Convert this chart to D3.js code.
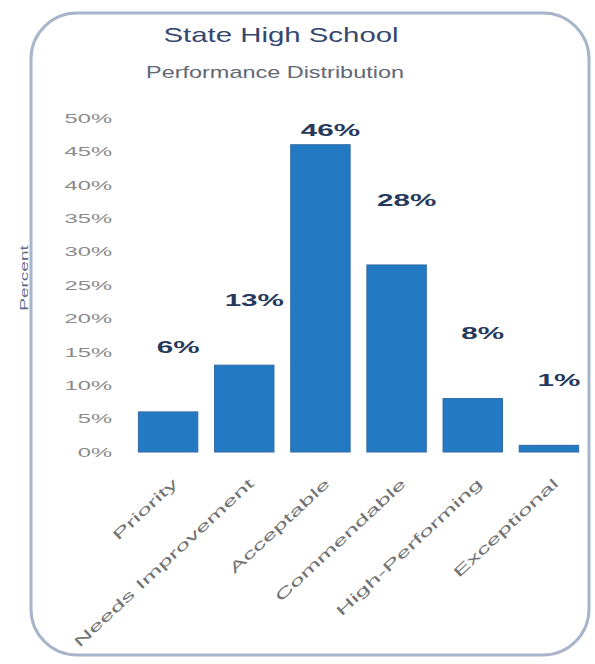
<!DOCTYPE html>
<html>
<head>
<meta charset="utf-8">
<script src="https://cdn.jsdelivr.net/npm/d3@7"></script>
<style>
  html, body { margin: 0; padding: 0; background: #fff; }
  svg { display: block; font-family: "Liberation Sans", Arial, sans-serif; }
</style>
</head>
<body>
<svg id="chart" width="595" height="664"></svg>
<script>
// data
const categories = ["Priority", "Needs Improvement", "Acceptable", "Commendable", "High-Performing", "Exceptional"];
const values = [6, 13, 46, 28, 8, 1];
const yTicks = [0, 5, 10, 15, 20, 25, 30, 35, 40, 45, 50];

const title = "State High School";
const subtitle = "Performance Distribution";
const yTitle = "Percent";

const width = 595;
const height = 664;

const svg = d3.select("#chart");

// rounded frame
svg.append("rect")
  .attr("x", 31).attr("y", 13)
  .attr("width", 558).attr("height", 642)
  .attr("rx", 46).attr("ry", 46)
  .attr("fill", "#fff")
  .attr("stroke", "#a7b4ca")
  .attr("stroke-width", 3);

// scales
const x = d3.scaleBand()
  .domain(categories)
  .range([130, 587])
  .paddingInner(0.22)
  .paddingOuter(0.11);

const y = d3.scaleLinear()
  .domain([0, 50])
  .range([452, 118]);

// text in the picture is wide, so stretch it sideways
function wide(sel, px, py, sx, rot) {
  sel.attr("transform", `translate(${px},${py})` + (rot ? ` rotate(${rot})` : "") + ` scale(${sx},1)`);
}

// titles
svg.append("text")
  .text(title)
  .attr("text-anchor", "middle")
  .attr("font-size", 21)
  .attr("fill", "#35476f")
  .call(wide, 281, 42, 1.4);

svg.append("text")
  .text(subtitle)
  .attr("text-anchor", "middle")
  .attr("font-size", 17)
  .attr("fill", "#626775")
  .call(wide, 275, 78, 1.38);

// y axis
const yAxis = svg.append("g")
  .attr("transform", "translate(118,0)")
  .call(d3.axisLeft(y).tickValues(yTicks).tickFormat(d => d + "%").tickSize(0));

yAxis.select(".domain").remove();
yAxis.selectAll("text")
  .attr("x", 0)
  .attr("dy", "0.35em")
  .attr("font-size", 12.5)
  .attr("font-family", "Liberation Sans, Arial, sans-serif")
  .attr("fill", "#8a8a8a")
  .attr("text-anchor", "end")
  .attr("transform", "translate(-6,0) scale(1.9,1)");

// y axis title
svg.append("text")
  .text(yTitle)
  .attr("text-anchor", "middle")
  .attr("dy", "0.35em")
  .attr("font-size", 10)
  .attr("fill", "#5b6a8c")
  .call(wide, 24, 278, 1.9, -90);

// bars
svg.append("g")
  .selectAll("rect")
  .data(values)
  .join("rect")
  .attr("x", (d, i) => x(categories[i]))
  .attr("y", d => y(d))
  .attr("width", x.bandwidth())
  .attr("height", d => y(0) - y(d))
  .attr("fill", "#237ac2")
  .attr("stroke", "#3069a3")
  .attr("stroke-width", 1);

// value labels
svg.append("g")
  .selectAll("text")
  .data(values)
  .join("text")
  .text(d => d + "%")
  .attr("text-anchor", "middle")
  .attr("dy", "0.35em")
  .attr("font-size", 16)
  .attr("font-weight", "bold")
  .attr("fill", "#26395c")
  .each(function(d, i) {
    const cx = x(categories[i]) + x.bandwidth() / 2 + 10;
    const cy = Math.max(y(d) - 65, y(50) + 12);
    d3.select(this).call(wide, cx, cy, 1.85);
  });

// category labels
svg.append("g")
  .selectAll("text")
  .data(categories)
  .join("text")
  .text(d => d)
  .attr("text-anchor", "end")
  .attr("dy", "0.35em")
  .attr("font-size", 14)
  .attr("fill", "#727272")
  .each(function(d) {
    const cx = x(d) + x.bandwidth() / 2 + 7;
    d3.select(this).call(wide, cx, 481, 1.9, -43);
  });
</script>
</body>
</html>
